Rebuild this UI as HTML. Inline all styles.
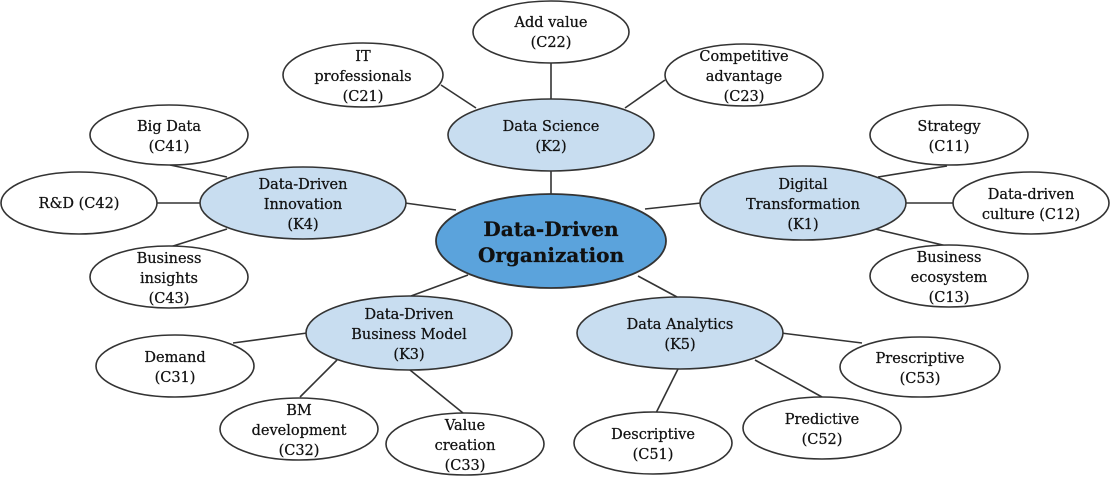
<!DOCTYPE html>
<html><head><meta charset="utf-8"><style>
html,body{margin:0;padding:0;background:#fff;}
svg{display:block;}
text{font-family:"DejaVu Serif","Liberation Serif",serif;font-size:14.5px;fill:#111;stroke:#111;stroke-width:0.25px;text-anchor:middle;}
</style></head><body>
<svg width="1111" height="477" viewBox="0 0 1111 477">
<g stroke="#333" stroke-width="1.6">
<line x1="551" y1="60" x2="551" y2="100"/>
<line x1="441" y1="85" x2="476" y2="108"/>
<line x1="665" y1="80" x2="625" y2="108"/>
<line x1="551" y1="170" x2="551" y2="195"/>
<line x1="170" y1="165" x2="227" y2="177"/>
<line x1="156" y1="203" x2="202" y2="203"/>
<line x1="170" y1="247" x2="227" y2="229"/>
<line x1="405" y1="203" x2="456" y2="210"/>
<line x1="701" y1="203" x2="645" y2="209"/>
<line x1="878" y1="177" x2="947" y2="166"/>
<line x1="905" y1="203" x2="953" y2="203"/>
<line x1="875" y1="229" x2="947" y2="246"/>
<line x1="411" y1="296" x2="468" y2="275"/>
<line x1="233" y1="343" x2="307" y2="333"/>
<line x1="300" y1="397" x2="337" y2="360"/>
<line x1="463" y1="413" x2="410" y2="370"/>
<line x1="677" y1="297" x2="638" y2="276"/>
<line x1="781" y1="333" x2="862" y2="343"/>
<line x1="755" y1="360" x2="822" y2="397"/>
<line x1="678" y1="369" x2="655" y2="415"/>
</g>
<g stroke="#333" stroke-width="1.6" fill="#fff">
<ellipse cx="551" cy="32" rx="78" ry="31"/>
<ellipse cx="363" cy="75" rx="80" ry="32"/>
<ellipse cx="744" cy="75" rx="79" ry="31"/>
<ellipse cx="169" cy="135" rx="79" ry="30"/>
<ellipse cx="79" cy="203" rx="78" ry="31"/>
<ellipse cx="169" cy="277" rx="79" ry="31"/>
<ellipse cx="949" cy="135" rx="79" ry="30"/>
<ellipse cx="1031" cy="203" rx="78" ry="31"/>
<ellipse cx="949" cy="276" rx="79" ry="31"/>
<ellipse cx="175" cy="366" rx="79" ry="31"/>
<ellipse cx="299" cy="429" rx="79" ry="31"/>
<ellipse cx="465" cy="444" rx="79" ry="31"/>
<ellipse cx="653" cy="443" rx="79" ry="31"/>
<ellipse cx="822" cy="428" rx="79" ry="31"/>
<ellipse cx="920" cy="367" rx="80" ry="30"/>
</g>
<g stroke="#333" stroke-width="1.6" fill="#c8ddf0">
<ellipse cx="551" cy="135" rx="103" ry="36"/>
<ellipse cx="303" cy="203" rx="103" ry="36"/>
<ellipse cx="803" cy="203" rx="103" ry="37"/>
<ellipse cx="409" cy="333" rx="103" ry="37"/>
<ellipse cx="680" cy="333" rx="103" ry="36"/>
</g>
<ellipse cx="551" cy="241" rx="115" ry="47" fill="#5ba3dc" stroke="#333" stroke-width="1.8"/>
<text x="551" y="236" style="font-size:20px;font-weight:bold">Data-Driven</text>
<text x="551" y="262" style="font-size:20px;font-weight:bold">Organization</text>

<text x="551" y="131">Data Science</text><text x="551" y="151">(K2)</text>
<text x="303" y="189">Data-Driven</text><text x="303" y="209">Innovation</text><text x="303" y="229">(K4)</text>
<text x="803" y="189">Digital</text><text x="803" y="209">Transformation</text><text x="803" y="229">(K1)</text>
<text x="409" y="319">Data-Driven</text><text x="409" y="339">Business Model</text><text x="409" y="359">(K3)</text>
<text x="680" y="329">Data Analytics</text><text x="680" y="349">(K5)</text>

<text x="551" y="27">Add value</text><text x="551" y="47">(C22)</text>
<text x="363" y="61">IT</text><text x="363" y="81">professionals</text><text x="363" y="101">(C21)</text>
<text x="744" y="61">Competitive</text><text x="744" y="81">advantage</text><text x="744" y="101">(C23)</text>
<text x="169" y="131">Big Data</text><text x="169" y="151">(C41)</text>
<text x="79" y="208">R&amp;D (C42)</text>
<text x="169" y="263">Business</text><text x="169" y="283">insights</text><text x="169" y="303">(C43)</text>
<text x="949" y="131">Strategy</text><text x="949" y="151">(C11)</text>
<text x="1031" y="199">Data-driven</text><text x="1031" y="219">culture (C12)</text>
<text x="949" y="262">Business</text><text x="949" y="282">ecosystem</text><text x="949" y="302">(C13)</text>
<text x="175" y="362">Demand</text><text x="175" y="382">(C31)</text>
<text x="299" y="415">BM</text><text x="299" y="435">development</text><text x="299" y="455">(C32)</text>
<text x="465" y="430">Value</text><text x="465" y="450">creation</text><text x="465" y="470">(C33)</text>
<text x="653" y="439">Descriptive</text><text x="653" y="459">(C51)</text>
<text x="822" y="424">Predictive</text><text x="822" y="444">(C52)</text>
<text x="920" y="363">Prescriptive</text><text x="920" y="383">(C53)</text>
</svg>
</body></html>
